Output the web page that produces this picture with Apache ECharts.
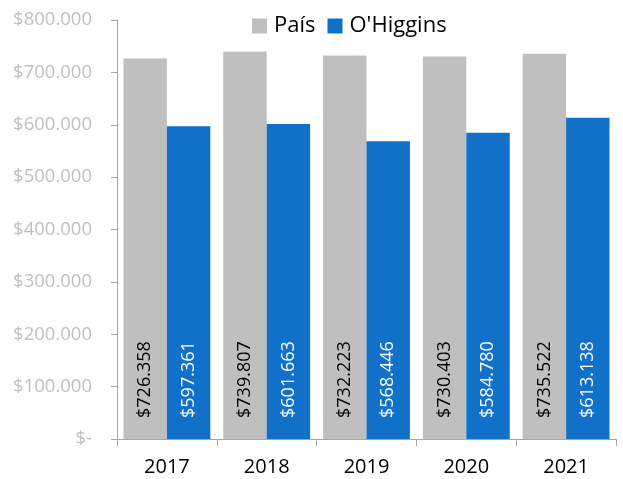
<!DOCTYPE html>
<html>
<head>
<meta charset="utf-8">
<script src="https://cdn.jsdelivr.net/npm/echarts@6/dist/echarts.min.js"></script>
<style>
  html, body { margin: 0; padding: 0; background: #fff; }
  #main { width: 623px; height: 479px; }
</style>
</head>
<body>
<div id="main"></div>
<script>
var years = ['2017', '2018', '2019', '2020', '2021'];
var pais = [726358, 739807, 732223, 730403, 735522];
var ohiggins = [597361, 601663, 568446, 584780, 613138];

function fmt(v) {
  if (v === 0) return '$-';
  return '$' + String(v).replace(/\B(?=(\d{3})+(?!\d))/g, '.');
}

var font = '"Open Sans", sans-serif';

var labelStyle = function (color) {
  return {
    show: true,
    position: 'insideBottom',
    rotate: 90,
    align: 'left',
    verticalAlign: 'middle',
    distance: 21,
    color: color,
    fontSize: 18,
    fontFamily: font,
    formatter: function (p) { return fmt(p.value); }
  };
};

var option = {
  animation: false,
  legend: {
    top: 10,
    left: 247,
    itemWidth: 15,
    itemHeight: 15,
    itemGap: 12,
    icon: 'rect',
    textStyle: { fontSize: 22, color: '#000', fontFamily: font, padding: [0, 0, 0, 2] }
  },
  grid: { left: 117, right: 7, top: 20, bottom: 40 },
  xAxis: {
    type: 'category',
    data: years,
    axisLine: { lineStyle: { color: '#A6A6A6' } },
    axisTick: { show: true, length: 7, lineStyle: { color: '#A6A6A6' } },
    axisLabel: { fontSize: 20, color: '#000', margin: 18, fontFamily: font }
  },
  yAxis: {
    type: 'value',
    min: 0,
    max: 800000,
    interval: 100000,
    splitLine: { show: false },
    axisLine: { show: true, lineStyle: { color: '#A6A6A6' } },
    axisTick: { show: true, inside: false, length: 6, lineStyle: { color: '#A6A6A6' } },
    axisLabel: {
      fontSize: 18.5,
      color: '#BFBFBF',
      margin: 25,
      fontFamily: font,
      formatter: fmt
    }
  },
  series: [
    {
      name: 'País',
      type: 'bar',
      data: pais,
      barGap: '0%',
      barCategoryGap: '13%',
      itemStyle: { color: '#BFBFBF' },
      label: labelStyle('#000')
    },
    {
      name: "O'Higgins",
      type: 'bar',
      data: ohiggins,
      itemStyle: { color: '#1170C8' },
      label: labelStyle('#fff')
    }
  ]
};

var chartDom = document.getElementById('main');
var myChart = echarts.init(chartDom);
option && myChart.setOption(option);
</script>
</body>
</html>
